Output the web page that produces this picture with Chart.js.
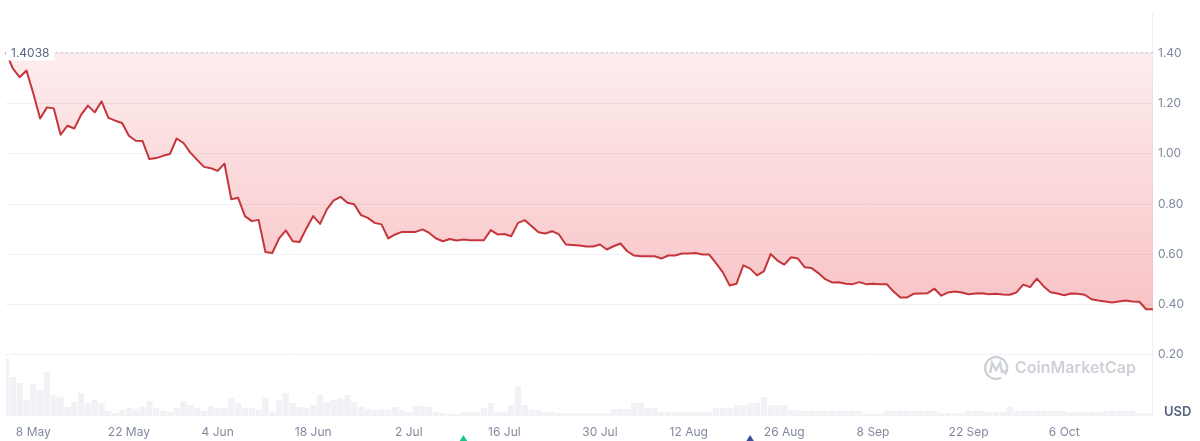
<!DOCTYPE html>
<html>
<head>
<meta charset="utf-8">
<title>Price chart</title>
<script src="https://cdn.jsdelivr.net/npm/chart.js@4.4.0/dist/chart.umd.min.js"></script>
<style>
  html, body { margin: 0; padding: 0; background: #ffffff; }
  #chart { display: block; }
</style>
</head>
<body>
<canvas id="chart" width="1200" height="441"></canvas>
<script>
// --- data ---
const startDate = Date.UTC(2023, 4, 4); // 4 May, first point = opening price
const basePrice = 1.4038;

// daily closing price, USD
const prices = [
  1.4038, 1.34, 1.305, 1.332, 1.24, 1.141, 1.185, 1.181, 1.076, 1.112,
  1.101, 1.155, 1.192, 1.165, 1.209, 1.143, 1.132, 1.123, 1.072, 1.052,
  1.051, 0.979, 0.983, 0.992, 0.999, 1.061, 1.043, 1.005, 0.976, 0.948,
  0.943, 0.932, 0.961, 0.819, 0.825, 0.752, 0.732, 0.737, 0.609, 0.605,
  0.663, 0.695, 0.652, 0.649, 0.703, 0.752, 0.721, 0.779, 0.815, 0.829,
  0.805, 0.799, 0.756, 0.745, 0.725, 0.719, 0.663, 0.679, 0.689, 0.689,
  0.689, 0.699, 0.685, 0.663, 0.652, 0.661, 0.655, 0.659, 0.656, 0.656,
  0.656, 0.696, 0.679, 0.681, 0.672, 0.725, 0.736, 0.712, 0.688, 0.683,
  0.692, 0.679, 0.639, 0.637, 0.635, 0.631, 0.631, 0.639, 0.619, 0.632,
  0.643, 0.612, 0.595, 0.592, 0.592, 0.592, 0.583, 0.595, 0.595, 0.603,
  0.603, 0.605, 0.599, 0.599, 0.565, 0.528, 0.476, 0.483, 0.556, 0.543,
  0.516, 0.532, 0.601, 0.575, 0.559, 0.588, 0.583, 0.548, 0.545, 0.525,
  0.501, 0.488, 0.489, 0.483, 0.481, 0.489, 0.481, 0.483, 0.481, 0.481,
  0.452, 0.428, 0.428, 0.443, 0.444, 0.445, 0.463, 0.435, 0.448, 0.452,
  0.448, 0.441, 0.444, 0.445, 0.441, 0.443, 0.440, 0.439, 0.448, 0.479,
  0.469, 0.503, 0.472, 0.449, 0.444, 0.437, 0.444, 0.443, 0.439, 0.421,
  0.416, 0.412, 0.408, 0.412, 0.416, 0.412, 0.411, 0.381, 0.381
];

// daily volume, relative units
const volumes = [
  58, 39, 33, 16, 32, 26, 44, 21, 19, 9,
  14, 23, 13, 16, 13, 5, 3, 6, 8, 7,
  9, 15, 8, 5, 4, 8, 15, 11, 8, 5,
  10, 8, 8, 18, 13, 8, 8, 6, 18, 4,
  16, 23, 13, 9, 8, 11, 21, 14, 16, 18,
  21, 14, 9, 7, 6, 7, 6, 9, 6, 4,
  10, 10, 9, 4, 3, 2, 2, 4, 4, 4,
  8, 13, 4, 4, 11, 30, 11, 6, 6, 4,
  4, 3, 3, 3, 3, 3, 3, 3, 3, 7,
  7, 7, 13, 13, 8, 8, 4, 4, 4, 4,
  4, 4, 4, 4, 8, 8, 8, 11, 11, 13,
  13, 19, 11, 11, 11, 6, 6, 5, 5, 5,
  5, 5, 5, 5, 5, 5, 2, 2, 2, 5,
  5, 5, 5, 5, 5, 5, 5, 3, 3, 3,
  3, 5, 5, 5, 4, 4, 4, 9, 5, 5,
  5, 5, 5, 5, 5, 5, 4, 4, 4, 4,
  4, 5, 5, 5, 5, 5, 3, 3, 3
];

const xTickLabels = ['8 May', '22 May', '4 Jun', '18 Jun', '2 Jul', '16 Jul', '30 Jul',
                     '12 Aug', '26 Aug', '8 Sep', '22 Sep', '6 Oct'];
const yTickValues = [0.2, 0.4, 0.6, 0.8, 1.0, 1.2, 1.4];

// event markers under the time axis
const eventDates = ['10 Jul', '21 Aug'];
const eventColors = ['#16c784', '#3d4d9c'];

// --- labels ---
const monthNames = ['Jan', 'Feb', 'Mar', 'Apr', 'May', 'Jun', 'Jul', 'Aug', 'Sep', 'Oct', 'Nov', 'Dec'];
const dates = prices.map((p, i) => {
  const d = new Date(startDate + i * 86400000);
  return d.getUTCDate() + ' ' + monthNames[d.getUTCMonth()];
});

const textGrey = '#808a9d';
const darkGrey = '#58667e';

// fill between price line and opening price
function fillGradient(context) {
  const chart = context.chart;
  const { ctx, chartArea, scales } = chart;
  if (!chartArea) return 'rgba(234, 57, 67, 0.15)';
  const top = scales.y.getPixelForValue(basePrice);
  const bottom = scales.y.getPixelForValue(0.38);
  const g = ctx.createLinearGradient(0, top, 0, bottom);
  g.addColorStop(0, 'rgba(234, 57, 67, 0.09)');
  g.addColorStop(1, 'rgba(234, 57, 67, 0.30)');
  return g;
}

// dashed opening line, its label, watermark, USD, event markers
const overlayPlugin = {
  id: 'overlay',
  afterDatasetsDraw(chart) {
    const { ctx, chartArea, scales } = chart;
    const yBase = Math.round(scales.y.getPixelForValue(basePrice)) + 0.5;

    ctx.save();
    ctx.strokeStyle = '#c3c8d1';
    ctx.lineWidth = 1;
    ctx.setLineDash([2, 3]);
    ctx.beginPath();
    ctx.moveTo(chartArea.left, yBase);
    ctx.lineTo(chartArea.right, yBase);
    ctx.stroke();
    ctx.setLineDash([]);

    // label box for opening price
    ctx.font = '12px Inter';
    const txt = basePrice.toFixed(4);
    const w = ctx.measureText(txt).width;
    ctx.fillStyle = '#ffffff';
    ctx.fillRect(chartArea.left, yBase - 9, w + 10, 17);
    ctx.fillStyle = darkGrey;
    ctx.textBaseline = 'middle';
    ctx.textAlign = 'left';
    ctx.fillText(txt, chartArea.left + 5, yBase + 0.5);

    // watermark
    const wmY = chartArea.bottom - 48;
    const wmRight = chartArea.right - 17;
    ctx.font = '600 16px Inter';
    ctx.fillStyle = '#cdd1d8';
    ctx.textAlign = 'right';
    ctx.fillText('CoinMarketCap', wmRight, wmY);
    const tw = ctx.measureText('CoinMarketCap').width;
    const cx = wmRight - tw - 19, cy = wmY;
    ctx.strokeStyle = '#cdd1d8';
    ctx.lineWidth = 2.4;
    ctx.beginPath();
    ctx.arc(cx, cy, 11, 0.35 * Math.PI, 2.2 * Math.PI);
    ctx.stroke();
    ctx.beginPath();
    ctx.moveTo(cx - 6, cy + 5);
    ctx.lineTo(cx - 4, cy - 5);
    ctx.lineTo(cx, cy + 2);
    ctx.lineTo(cx + 4, cy - 5);
    ctx.lineTo(cx + 6, cy + 4);
    ctx.lineTo(cx + 9, cy + 3);
    ctx.stroke();

    // currency label
    ctx.font = '600 13px Inter';
    ctx.fillStyle = darkGrey;
    ctx.textAlign = 'left';
    ctx.fillText('USD', chartArea.right + 11, chartArea.bottom - 4);

    // event markers
    eventDates.forEach((d, i) => {
      const x = scales.x.getPixelForValue(dates.indexOf(d));
      ctx.fillStyle = eventColors[i];
      ctx.beginPath();
      ctx.moveTo(x, 435);
      ctx.lineTo(x - 5, 443);
      ctx.lineTo(x + 5, 443);
      ctx.closePath();
      ctx.fill();
    });
    ctx.restore();
  }
};

new Chart(document.getElementById('chart'), {
  data: {
    labels: dates,
    datasets: [
      {
        type: 'line',
        label: 'Price',
        data: prices,
        yAxisID: 'y',
        borderColor: '#c4363c',
        borderWidth: 2,
        borderJoinStyle: 'round',
        pointRadius: 0,
        tension: 0,
        backgroundColor: fillGradient,
        fill: { value: basePrice },
        order: 1
      },
      {
        type: 'bar',
        label: 'Volume',
        data: volumes,
        yAxisID: 'yv',
        backgroundColor: '#f0f2f5',
        barPercentage: 1,
        categoryPercentage: 0.92,
        order: 2
      }
    ]
  },
  options: {
    responsive: false,
    animation: false,
    devicePixelRatio: 1,
    layout: { padding: { left: 6, right: 11, top: 0, bottom: 0 } },
    plugins: { legend: { display: false }, tooltip: { enabled: false } },
    scales: {
      x: {
        type: 'category',
        offset: false,
        grid: { display: false, drawTicks: false },
        border: { display: false },
        afterFit: (scale) => { scale.height = 25; scale.paddingLeft = 0; scale.paddingRight = 0; },
        ticks: {
          autoSkip: false,
          maxRotation: 0,
          color: textGrey,
          font: { family: 'Inter', size: 12 },
          padding: 9,
          callback: function (val) {
            const l = this.getLabelForValue(val);
            return xTickLabels.includes(l) ? l : '';
          }
        }
      },
      y: {
        position: 'right',
        min: -0.044,
        max: 1.564,
        afterBuildTicks: (scale) => { scale.ticks = yTickValues.map(v => ({ value: v })); },
        grid: { color: '#eff2f5', drawTicks: false },
        border: { display: true, color: '#eff2f5' },
        ticks: {
          color: textGrey,
          font: { family: 'Inter', size: 12 },
          padding: 5,
          callback: (v) => v.toFixed(2)
        }
      },
      yv: {
        display: false,
        min: 0,
        max: 404
      }
    }
  },
  plugins: [overlayPlugin]
});
</script>
</body>
</html>
